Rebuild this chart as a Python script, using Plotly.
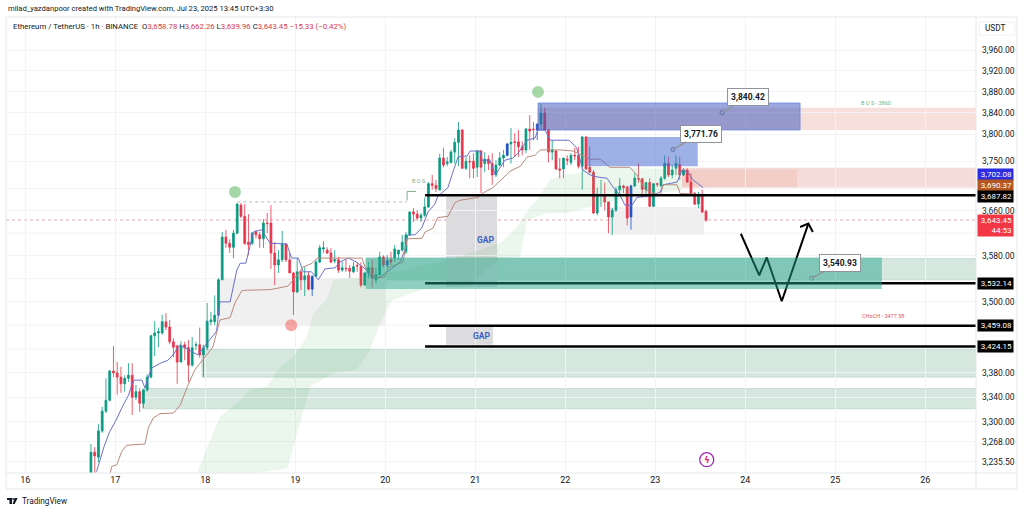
import math
import plotly.graph_objects as go

# horas contadas a partir de 16 jul 00:00, primeiro candle 17:30
first_hour = 17.5

opens = [3216, 3251, 3243, 3285, 3317, 3335, 3383, 3380, 3373, 3362,
         3371, 3376, 3340, 3349, 3330, 3352, 3373, 3442, 3447, 3447,
         3466, 3457, 3432, 3425, 3398, 3427, 3422, 3393, 3426, 3427,
         3410, 3422, 3466, 3466, 3477, 3538, 3613, 3602, 3595, 3620,
         3670, 3650, 3604, 3602, 3622, 3617, 3610, 3638, 3638, 3585,
         3564, 3573, 3601, 3573, 3550, 3517, 3552, 3538, 3546, 3522,
         3544, 3569, 3592, 3590, 3585, 3571, 3573, 3555, 3558, 3558,
         3552, 3563, 3561, 3529, 3550, 3559, 3538, 3547, 3578, 3564,
         3573, 3576, 3583, 3590, 3587, 3617, 3658, 3654, 3647, 3652,
         3667, 3709, 3706, 3698, 3756, 3746, 3748, 3767, 3785, 3808,
         3737, 3750, 3750, 3739, 3769, 3746, 3754, 3746, 3725, 3743,
         3756, 3761, 3782, 3786, 3786, 3777, 3771, 3810, 3810, 3808,
         3819, 3840, 3808, 3767, 3769, 3736, 3736, 3754, 3748, 3761,
         3761, 3741, 3795, 3739, 3730, 3656, 3688, 3688, 3676, 3649,
         3661, 3698, 3705, 3703, 3649, 3705, 3719, 3718, 3698, 3711,
         3668, 3709, 3705, 3719, 3746, 3725, 3737, 3744, 3725, 3734,
         3712, 3691, 3672, 3690, 3658.78]
highs = [3264, 3259, 3296, 3324, 3371, 3385, 3425, 3398, 3390, 3376,
         3396, 3396, 3360, 3355, 3352, 3378, 3444, 3467, 3456, 3478,
         3481, 3469, 3438, 3427, 3433, 3432, 3435, 3440, 3432, 3456,
         3427, 3498, 3483, 3511, 3541, 3622, 3626, 3609, 3626, 3674,
         3674, 3672, 3654, 3622, 3626, 3622, 3645, 3656, 3670, 3604,
         3590, 3624, 3601, 3585, 3552, 3576, 3555, 3560, 3552, 3546,
         3573, 3599, 3606, 3595, 3594, 3590, 3578, 3569, 3573, 3564,
         3569, 3569, 3569, 3552, 3569, 3573, 3559, 3587, 3581, 3581,
         3587, 3599, 3590, 3617, 3622, 3658, 3665, 3661, 3656, 3684,
         3712, 3725, 3716, 3764, 3775, 3758, 3771, 3793, 3823, 3810,
         3758, 3761, 3765, 3771, 3771, 3767, 3761, 3765, 3752, 3767,
         3771, 3784, 3812, 3802, 3808, 3787, 3812, 3836, 3823, 3821,
         3857, 3850, 3810, 3789, 3771, 3756, 3756, 3761, 3765, 3775,
         3777, 3797, 3797, 3777, 3734, 3702, 3716, 3711, 3676, 3665,
         3703, 3719, 3707, 3705, 3707, 3728, 3746, 3719, 3711, 3719,
         3709, 3711, 3723, 3761, 3758, 3743, 3761, 3758, 3737, 3737,
         3728, 3694, 3694, 3698, 3662.26]
lows = [3212, 3216, 3235, 3282, 3314, 3333, 3373, 3344, 3347, 3349,
        3365, 3311, 3335, 3316, 3322, 3349, 3371, 3408, 3423, 3444,
        3452, 3428, 3406, 3362, 3398, 3401, 3365, 3390, 3418, 3405,
        3373, 3418, 3460, 3460, 3476, 3538, 3594, 3585, 3576, 3618,
        3647, 3599, 3581, 3599, 3611, 3594, 3594, 3620, 3557, 3529,
        3550, 3569, 3569, 3550, 3477, 3515, 3520, 3510, 3520, 3510,
        3543, 3567, 3585, 3583, 3567, 3567, 3550, 3552, 3552, 3541,
        3550, 3552, 3525, 3527, 3541, 3525, 3532, 3546, 3559, 3560,
        3564, 3569, 3573, 3587, 3583, 3615, 3640, 3643, 3640, 3649,
        3665, 3698, 3694, 3696, 3739, 3741, 3746, 3746, 3741, 3737,
        3734, 3719, 3719, 3721, 3692, 3730, 3734, 3707, 3721, 3741,
        3739, 3759, 3746, 3758, 3758, 3761, 3765, 3771, 3789, 3789,
        3808, 3808, 3748, 3752, 3734, 3719, 3719, 3743, 3743, 3752,
        3737, 3698, 3734, 3728, 3654, 3652, 3667, 3661, 3620, 3617,
        3658, 3688, 3692, 3634, 3626, 3703, 3711, 3684, 3684, 3667,
        3667, 3703, 3703, 3716, 3721, 3719, 3725, 3716, 3723, 3711,
        3688, 3670, 3665, 3656, 3639.96]
closes = [3251, 3245, 3285, 3317, 3335, 3383, 3380, 3373, 3362, 3371,
          3376, 3340, 3349, 3330, 3352, 3373, 3442, 3447, 3449, 3466,
          3457, 3432, 3423, 3398, 3425, 3422, 3393, 3422, 3427, 3410,
          3422, 3467, 3469, 3477, 3538, 3613, 3602, 3595, 3620, 3672,
          3650, 3602, 3600, 3620, 3617, 3610, 3638, 3637, 3585, 3564,
          3573, 3601, 3573, 3550, 3517, 3552, 3538, 3545, 3522, 3544,
          3569, 3594, 3594, 3585, 3569, 3573, 3555, 3559, 3557, 3553,
          3561, 3562, 3529, 3550, 3559, 3541, 3547, 3578, 3564, 3571,
          3569, 3592, 3590, 3604, 3617, 3658, 3654, 3647, 3652, 3667,
          3709, 3706, 3700, 3756, 3743, 3749, 3767, 3785, 3808, 3737,
          3750, 3749, 3737, 3769, 3739, 3754, 3746, 3725, 3743, 3756,
          3761, 3782, 3785, 3785, 3777, 3771, 3810, 3806, 3809, 3819,
          3840, 3808, 3767, 3771, 3736, 3734, 3756, 3752, 3761, 3760,
          3741, 3795, 3736, 3730, 3656, 3688, 3689, 3676, 3649, 3661,
          3698, 3705, 3702, 3647, 3705, 3719, 3718, 3699, 3711, 3668,
          3709, 3708, 3719, 3746, 3725, 3734, 3746, 3725, 3734, 3712,
          3691, 3672, 3690, 3658, 3643.45]
blue_candles = [59, 79, 111, 119, 144]

conv_h = [19, 20, 21, 22.5, 24, 25.7, 27.5, 28.4, 29, 31.1, 31.9, 32.8, 33.7, 36, 38, 39.4, 41.2, 46, 51,
          51.9, 54.6, 56.4, 57.3, 58.8, 60.4, 60.8, 63, 65.3, 69.7, 71, 72.8, 74.1, 76.3, 78.1, 79.9, 82.6,
          83.9, 86.1, 88.3, 91, 92.5, 94.7, 97.6, 99.9, 101.2, 102, 103.9, 105.7, 107.4, 109.2, 110, 112.7,
          114, 115.4, 117.8, 118.6, 121.2, 121.8, 123.9, 125.3, 127.9, 130, 131.4, 132.7, 133.8, 135.9,
          136.7, 138.6, 140, 145, 147, 148.7, 150.6, 152.7, 155.1, 156.7, 158.6, 159.9, 161.8, 163.1, 167.4,
          169.3, 170.1, 173.8, 175.1, 176.7, 178, 180.7]
conv_p = [3220, 3242, 3260, 3284, 3300, 3322, 3343, 3360, 3368, 3368, 3355, 3373, 3388, 3396, 3401, 3410, 3427, 3410, 3450,
          3500, 3500, 3555, 3567, 3567, 3610, 3622, 3626, 3602, 3601, 3576, 3576, 3552, 3552, 3538, 3557, 3559,
          3569, 3576, 3569, 3555, 3541, 3543, 3557, 3569, 3590, 3617, 3617, 3629, 3658, 3672, 3686, 3702,
          3730, 3758, 3760, 3769, 3769, 3752, 3752, 3725, 3752, 3756, 3765, 3777, 3789, 3793,
          3808, 3808, 3789, 3789, 3775, 3734, 3725, 3721, 3719, 3703, 3688, 3670, 3670, 3684, 3688,
          3694, 3707, 3712, 3734, 3730, 3716, 3702.08]
base_h = [22.6, 23, 24.4, 25.7, 27, 31.9, 32.8, 34.1, 35.9, 39.5, 41.3, 43.4, 45.2, 46.6, 47.4, 50, 51.4, 51.9,
          54.6, 55.9, 57.7, 59, 65.3, 68.7, 70, 72.5, 74, 76.5, 77.8, 89.8, 90.6, 93.8, 95.9, 96.7, 100.7, 101.8,
          105.8, 106.6, 108.7, 110, 112.7, 114.6, 115.9, 120.7, 121.8, 124.7, 127.4, 129.3, 132, 133.8, 135.9,
          137.3, 142.6, 146, 150.6, 153.3, 155.9, 161.2, 163.1, 165.3, 169.3, 170.1, 173.8, 174.6, 178]
base_p = [3216, 3228, 3231, 3252, 3262, 3264, 3290, 3306, 3313, 3314, 3327, 3360, 3385, 3396, 3401, 3423, 3457, 3469,
          3473, 3498, 3519, 3520, 3521, 3525, 3527, 3546, 3560, 3567, 3576, 3576, 3560, 3541, 3543, 3559, 3569, 3610,
          3611, 3622, 3629, 3648, 3650, 3675, 3679, 3684, 3691, 3702, 3719, 3732, 3741, 3758, 3761,
          3771, 3771, 3769, 3754, 3754, 3739, 3739, 3725, 3698, 3688, 3707, 3707, 3691, 3690.37]

cloud_h = [45.8, 48.5, 51.9, 57.3, 59.9, 64.5, 67.9, 71.4, 75.1, 76.7, 80.5, 82.1, 91.1, 99.9, 110.6, 121.2, 126.6,
           131.1, 134, 136.4, 139.9, 143.4, 147.9, 150.6, 163.1, 175.1, 175.1, 163.1, 150.6, 144.4, 139.1,
           133.8, 131.9, 126.6, 118.6, 105.3, 97.8, 94.6, 91.9, 88.4, 82.1, 75.9, 71.4, 70, 61.7, 45.8]
cloud_p = [3218, 3259, 3308, 3335, 3352, 3357, 3390, 3406, 3440, 3479, 3506, 3538, 3543, 3555, 3569, 3590, 3602,
           3631, 3661, 3679, 3716, 3725, 3729, 3740, 3738, 3735, 3697, 3688, 3667, 3656, 3656,
           3643, 3578, 3576, 3529, 3520, 3503, 3464, 3418, 3385, 3380, 3357, 3258, 3226, 3218, 3218]

# zonas: inicio, fim, topo, base
right_edge = 253.5
pink_zone = [136.7, right_edge, 3850, 3808]
red_zone = [175.1, right_edge, 3738, 3702]
red_zone_dark = [175.1, 205.8, 3735, 3702]
blue_zone_a = [136.7, 206.6, 3859, 3808]
blue_zone_b = [149.8, 179.3, 3795, 3741]
pale_zone_a = [90.8, right_edge, 3575, 3538]
pale_zone_b = [47.1, right_edge, 3419, 3373]
pale_zone_c = [31.3, right_edge, 3354, 3321]
teal_zone = [90.8, 228.4, 3577, 3522]
gray_zone_a = [51.7, 96.2, 3541, 3459]
gray_zone_b = [155.9, 181, 3667, 3617]
gap_zone_a = [112.2, 125.8, 3686, 3525]
gap_zone_b = [112.2, 124.7, 3460, 3427]

line_prices = [3687.82, 3532.14, 3459.08, 3424.15]
line_starts = [106.6, 106.6, 107.7, 106.6]
last_price = 3643.45

path_h = [190.8, 195.7, 197.7, 201.7, 208.8]
path_p = [3619, 3546, 3577, 3501, 3637]
head_h = [206.6, 208.8, 210]
head_p = [3631, 3637, 3622]

callout_h = [185.8, 172.7, 209.7]
callout_p = [3840.42, 3771.76, 3540.93]
circle_green_h = [55.9, 136.7]
circle_green_p = [3694, 3880]
circle_red_h = [70.9]
circle_red_p = [3460]
event_h = [181.7]
event_p = [3239]

day_ticks = [0, 24, 48, 72, 96, 120, 144, 168, 192, 216, 240]
day_labels = ['16', '17', '18', '19', '20', '21', '22', '23', '24', '25', '26']
price_ticks = [3960, 3920, 3880, 3840, 3800, 3750, 3660, 3580, 3500, 3380, 3340, 3300, 3268, 3235.5]
price_grid = [3700, 3620, 3540, 3460, 3420]
tag_prices = [3702.08, 3690.37, 3687.82, 3643.45, 3532.14, 3459.08, 3424.15]
tag_labels = ['3,702.08', '3,690.37', '3,687.82', '3,643.45<br>44:53', '3,532.14', '3,459.08', '3,424.15']
tag_shift = [13.3, 8.2, -1, -5, -0.5, 0, -0.5]
tag_colors = ['#2c2ce0', '#b4561f', '#000000', '#f23645', '#000000', '#000000', '#000000']

FONT = 'Roboto'
UP = '#089981'
DOWN = '#e8344a'
BLUE = '#1c4fc4'
W, H = 1024, 512
L, R, T, B = 6, 976, 17, 473


def px(x):
    return (x - L) / (R - L)


def py(y):
    return (B - y) / (B - T)


def zone(z, fill, layer='below', border=None):
    return dict(type='rect', x0=z[0], x1=z[1], y0=z[3], y1=z[2], xref='x', yref='y', layer=layer,
                fillcolor=fill, line=dict(width=1 if border else 0, color=border or fill))


hours = [first_hour + i for i in range(len(closes))]
main_idx = [i not in blue_candles for i in range(len(closes))]


def pick(values, keep):
    return [v if k else None for v, k in zip(values, keep)]


fig = go.Figure()

fig.add_trace(go.Scatter(x=cloud_h, y=cloud_p, mode='lines', fill='toself', fillcolor='rgba(102,187,106,0.13)',
                         line=dict(width=0), hoverinfo='skip'))

fig.add_trace(go.Candlestick(x=hours, open=pick(opens, main_idx), high=pick(highs, main_idx),
                             low=pick(lows, main_idx), close=pick(closes, main_idx),
                             increasing=dict(line=dict(color=UP, width=0.8), fillcolor=UP),
                             decreasing=dict(line=dict(color=DOWN, width=0.8), fillcolor=DOWN)))
blue_idx = [i in blue_candles for i in range(len(closes))]
fig.add_trace(go.Candlestick(x=hours, open=pick(opens, blue_idx), high=pick(highs, blue_idx),
                             low=pick(lows, blue_idx), close=pick(closes, blue_idx),
                             increasing=dict(line=dict(color=BLUE, width=0.8), fillcolor=BLUE),
                             decreasing=dict(line=dict(color=BLUE, width=0.8), fillcolor=BLUE)))

fig.add_trace(go.Scatter(x=conv_h, y=conv_p, mode='lines', line=dict(color='#6a6fcb', width=1)))
fig.add_trace(go.Scatter(x=base_h, y=base_p, mode='lines', line=dict(color='#b9897a', width=1)))

fig.add_trace(go.Scatter(x=circle_green_h, y=circle_green_p, mode='markers',
                         marker=dict(size=12, color='rgba(76,175,80,0.5)')))
fig.add_trace(go.Scatter(x=circle_red_h, y=circle_red_p, mode='markers',
                         marker=dict(size=12, color='rgba(239,83,80,0.5)')))

fig.add_trace(go.Scatter(x=path_h, y=path_p, mode='lines', line=dict(color='#000000', width=2)))
fig.add_trace(go.Scatter(x=head_h, y=head_p, mode='lines', line=dict(color='#000000', width=2)))
fig.add_trace(go.Scatter(x=callout_h, y=callout_p, mode='markers',
                         marker=dict(size=4, color='#ffffff', line=dict(color='#787b86', width=1))))
fig.add_trace(go.Scatter(x=event_h, y=event_p, mode='markers',
                         marker=dict(size=14, color='#ffffff', line=dict(color='#9c27b0', width=1.2))))

shapes = []
# grade
for p in price_grid:
    shapes.append(dict(type='line', x0=0, x1=1, xref='paper', y0=p, y1=p, yref='y', layer='below',
                       line=dict(color='#f2f3f6', width=1)))
shapes.append(zone(pink_zone, '#f7dfdb'))
shapes.append(zone(red_zone, '#f6dcd8'))
shapes.append(zone(red_zone_dark, 'rgba(235,150,130,0.2)'))
shapes.append(zone(pale_zone_a, '#d5e7df', border='#c5dcd2'))
shapes.append(zone(pale_zone_b, '#d5e7df', border='#c5dcd2'))
shapes.append(zone(pale_zone_c, '#d5e7df', border='#c5dcd2'))
shapes.append(zone(gray_zone_a, '#f0f0f1'))
shapes.append(zone(gray_zone_b, '#efeff0'))
shapes.append(zone(gap_zone_a, '#dcdcde'))
shapes.append(zone(gap_zone_b, '#dcdcde'))

# linha de preço atual e o BOS tracejado
shapes.append(dict(type='line', x0=0, x1=1, xref='paper', y0=last_price, y1=last_price, yref='y', layer='below',
                   line=dict(color='#e9a7ad', width=1, dash='dot')))
shapes.append(dict(type='line', x0=56.5, x1=101.8, y0=3676, y1=3676, xref='x', yref='y', layer='below',
                   line=dict(color='#b9b9bd', width=1, dash='dot')))
shapes.append(dict(type='line', x0=101.8, x1=106.6, y0=3695, y1=3695, xref='x', yref='y', layer='below',
                   line=dict(color='#7fa98f', width=1, dash='dash')))
shapes.append(dict(type='line', x0=101.8, x1=101.8, y0=3695, y1=3676, xref='x', yref='y', layer='below',
                   line=dict(color='#7fa98f', width=1, dash='dash')))

# linhas pretas
for p, start in zip(line_prices, line_starts):
    shapes.append(dict(type='line', x0=start, x1=right_edge, y0=p, y1=p, xref='x', yref='y', layer='above',
                       line=dict(color='#000000', width=2.5)))

shapes.append(zone(teal_zone, 'rgba(38,166,139,0.48)', layer='above'))
shapes.append(zone(blue_zone_a, 'rgba(62,88,190,0.52)', layer='above', border='rgba(90,120,210,0.6)'))
shapes.append(zone(blue_zone_b, 'rgba(62,100,205,0.5)', layer='above'))

# moldura
frame = '#e6e8ee'
shapes.append(dict(type='line', xref='paper', yref='paper', x0=px(L), x1=px(1017), y0=py(17), y1=py(17),
                   line=dict(color=frame, width=1)))
shapes.append(dict(type='line', xref='paper', yref='paper', x0=px(L), x1=px(1017), y0=py(489), y1=py(489),
                   line=dict(color=frame, width=1)))
shapes.append(dict(type='line', xref='paper', yref='paper', x0=px(L), x1=px(L), y0=py(17), y1=py(489),
                   line=dict(color=frame, width=1)))
shapes.append(dict(type='line', xref='paper', yref='paper', x0=px(1017), x1=px(1017), y0=py(17), y1=py(489),
                   line=dict(color=frame, width=1)))
shapes.append(dict(type='line', xref='paper', yref='paper', x0=px(R), x1=px(R), y0=py(17), y1=py(489),
                   line=dict(color=frame, width=1)))
shapes.append(dict(type='line', xref='paper', yref='paper', x0=px(L), x1=px(1017), y0=py(B), y1=py(B),
                   line=dict(color=frame, width=1)))
shapes.append(dict(type='rect', xref='paper', yref='paper', x0=px(979), x1=px(1015), y0=py(22), y1=py(35),
                   line=dict(color='#f0f1f4', width=1), fillcolor='#ffffff'))

# logo
shapes.append(dict(type='path', xref='paper', yref='paper', fillcolor='#131722', line=dict(width=0),
                   path='M {} {} L {} {} L {} {} L {} {} L {} {} L {} {} Z'.format(
                       px(7), py(498), px(12), py(498), px(12), py(504), px(9.5), py(504), px(9.5), py(500), px(7), py(500))))
shapes.append(dict(type='circle', xref='paper', yref='paper', fillcolor='#131722', line=dict(width=0),
                   x0=px(12.3), x1=px(14), y0=py(498), y1=py(500)))
shapes.append(dict(type='path', xref='paper', yref='paper', fillcolor='#131722', line=dict(width=0),
                   path='M {} {} L {} {} L {} {} L {} {} Z'.format(
                       px(14.6), py(498), px(17.6), py(498), px(14.6), py(504), px(12.6), py(504))))

fig.update_layout(shapes=shapes)


def note_px(x, y, text, size=9, color='#131722', anchor='left', **kw):
    fig.add_annotation(xref='paper', yref='paper', x=px(x), y=py(y), text=text, showarrow=False, xanchor=anchor,
                       yanchor='middle', font=dict(family=FONT, size=size, color=color), **kw)


def note_data(h, p, text, size=9, color='#131722', **kw):
    fig.add_annotation(x=h, y=math.log10(p), text=text, showarrow=False, font=dict(family=FONT, size=size, color=color), **kw)


note_px(6, 9, 'milad_yazdanpoor created with TradingView.com, Jul 23, 2025 13:45 UTC+3:30', size=7.6)
red = '<span style="color:#d9394e">%s</span>'
legend_text = ('Ethereum / TetherUS · 1h · BINANCE  O' + red % '3,658.78' + ' H' + red % '3,662.26' + ' L' + red % '3,639.96'
               + ' C' + red % '3,643.45' + ' ' + red % '−15.33 (−0.42%)')
note_px(11, 27, legend_text, size=7.8)
note_px(983, 28, 'USDT', size=8.2)
note_px(20, 501, 'TradingView', size=8.2)

note_data(105, 3714, 'B O S', size=5.5, color='#7fb08a')
note_data(226.9, 3859, 'B O S - 3860', size=5.5, color='#6fb47c')
note_data(228.7, 3476, 'CHoCH - 3477.58', size=5.5, color='#e0525f')
note_data(122.9, 3608, '<b>GAP</b>', size=8.5, color='#3b5ec9')
note_data(121.8, 3441, '<b>GAP</b>', size=8.5, color='#3b5ec9')

# etiquetas do eixo de preço
for p, label, shift, color in zip(tag_prices, tag_labels, tag_shift, tag_colors):
    fig.add_annotation(xref='paper', x=px(977), xanchor='left', y=math.log10(p), yanchor='middle', yshift=shift,
                       text=label, showarrow=False, bgcolor=color, width=33, borderpad=1, align='right',
                       font=dict(family=FONT, size=8, color='#ffffff'))

# balões com preço
for h, p, text, ax, ay in zip(callout_h, callout_p, ['3,840.42', '3,771.76', '3,540.93'], [26, 28, 28], [-16, -16, -15]):
    fig.add_annotation(x=h, y=math.log10(p), text='<b>%s</b>' % text, ax=ax, ay=ay, showarrow=True, arrowhead=0,
                       arrowcolor='#8f939c', arrowwidth=1.5, bgcolor='#ffffff', bordercolor='#8f939c', borderwidth=1,
                       borderpad=3, font=dict(family=FONT, size=8.5, color='#131722'))

# ícone de evento
note_data(event_h[0], event_p[0], '<b>ϟ</b>', size=9, color='#e91e63')
fig.layout.annotations[-1].font.family = 'DejaVu Sans'

fig.update_layout(
    width=W, height=H, margin=dict(l=L, r=W - R, t=T, b=H - B), paper_bgcolor='#ffffff', plot_bgcolor='#ffffff',
    showlegend=False, hovermode=False,
    xaxis=dict(range=[-5.15, right_edge], tickmode='array', tickvals=day_ticks, ticktext=day_labels,
               tickfont=dict(family=FONT, size=9, color='#131722'), gridcolor='#f2f3f6', showline=False, zeroline=False,
               rangeslider=dict(visible=False), ticklen=0, ticks=''),
    yaxis=dict(type='log', side='right', range=[math.log10(3217.9), math.log10(4025.3)], tickmode='array',
               tickvals=price_ticks, ticktext=['{:,.2f}'.format(v) for v in price_ticks],
               tickfont=dict(family=FONT, size=8.5, color='#131722'), gridcolor='#f2f3f6', zeroline=False, showline=False,
               ticks='', ticklen=0, ticklabelstandoff=5),
)

# tira a margem padrão do body para o gráfico ficar no canto da janela
fig.write_html("out.html", post_script="document.body.style.margin='0';", config={'displayModeBar': False})
